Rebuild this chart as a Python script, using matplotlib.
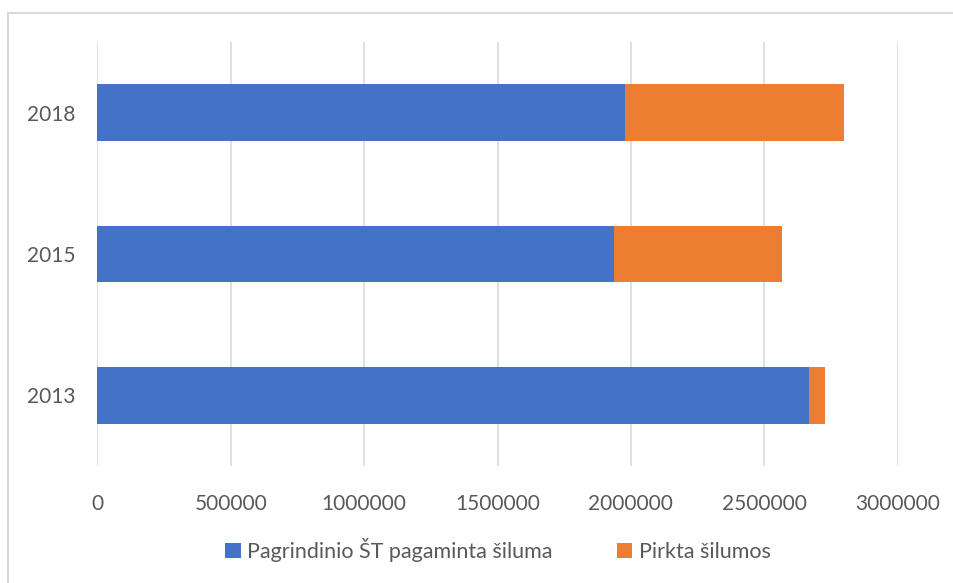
import matplotlib.pyplot as plt
from matplotlib.patches import Rectangle

plt.rcParams['font.family'] = ['Lato', 'DejaVu Sans']

# data
years = ["2013", "2015", "2018"]
pagaminta = [2668000, 1937000, 1977000]
pirkta = [59000, 631000, 821000]
labels = ["Pagrindinio ŠT pagaminta šiluma", "Pirkta šilumos"]
xticks = [0, 500000, 1000000, 1500000, 2000000, 2500000, 3000000]

blue = "#4472C4"
orange = "#ED7D31"
text_col = "#595959"

fig = plt.figure(figsize=(9.54, 5.83), dpi=100)
ax = fig.add_axes([0.102, 0.2007, 0.839, 0.7273])

# light frame around the chart (cut off at right and bottom like the screenshot)
fig.patches.append(Rectangle((8 / 954, -0.1), 1.2, 1 - 13 / 583 + 0.1,
                             transform=fig.transFigure, fill=False,
                             edgecolor="#D9D9D9", linewidth=1.5))

pos = range(len(years))
ax.barh(pos, pagaminta, height=0.4, color=blue, label=labels[0], zorder=3)
ax.barh(pos, pirkta, height=0.4, left=pagaminta, color=orange, label=labels[1], zorder=3)

ax.set_xlim(0, 3000000)
ax.set_ylim(-0.5, 2.5)
ax.set_xticks(xticks)
ax.set_xticklabels([str(v) for v in xticks])
ax.set_yticks(list(pos))
ax.set_yticklabels(years)
ax.tick_params(axis="both", length=0, labelsize=15, colors=text_col)
ax.tick_params(axis="x", pad=20)
ax.tick_params(axis="y", pad=16)

ax.grid(axis="x", color="#D9D9D9", linewidth=1.2, zorder=0)
for s in ax.spines.values():
    s.set_visible(False)

fig.legend(loc="center", bbox_to_anchor=(0.522, 0.057), ncol=2, frameon=False,
           fontsize=15.5, labelcolor=text_col, handlelength=0.7, handleheight=0.7,
           handletextpad=0.3, columnspacing=3.0)

fig.savefig("out.png", dpi=100)
